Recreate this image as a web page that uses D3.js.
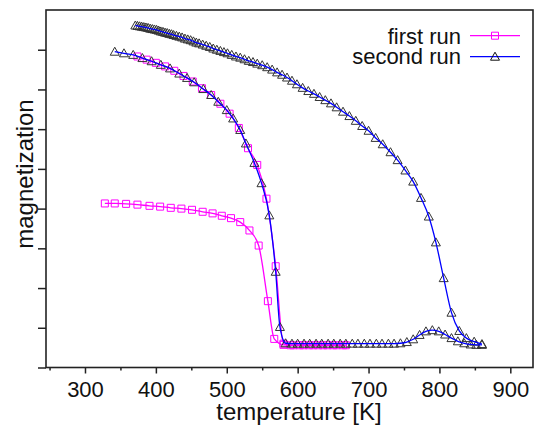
<!DOCTYPE html>
<html>
<head>
<meta charset="utf-8">
<script src="https://cdn.jsdelivr.net/npm/d3@7"></script>
<style>
  body { margin: 0; background: #fff; }
  svg { display: block; }
  text { font-family: "Liberation Sans", Arial, sans-serif; fill: #111; }
</style>
</head>
<body>
<svg id="chart" width="536" height="430"></svg>
<script>
// Legend entries
const seriesNames = ["first run", "second run"];

// Axis ticks (temperature in K; magnetization in arbitrary units, unlabelled)
const tempTicks = [300, 400, 500, 600, 700, 800, 900];
const tempMinorTicks = [250, 350, 450, 550, 650, 750, 850];
const magTicks = [0, 1, 2, 3, 4, 5, 6, 7, 8];

// First run: heating branch [T (K), magnetization]
const run1Heating = [
  [328, 4.13], [342, 4.13], [358, 4.12], [374, 4.10], [391, 4.07], [406, 4.05],
  [421, 4.02], [436, 4.00], [451, 3.97], [466, 3.92], [480, 3.88], [493, 3.82],
  [506, 3.76], [519, 3.66], [532, 3.45], [545, 3.07], [558, 1.67], [567, 0.72],
  [580, 0.57], [594, 0.56], [608, 0.56], [622, 0.56], [636, 0.56], [650, 0.56],
  [664, 0.56]
];

// First run: cooling branch
const run1Cooling = [
  [374, 7.83], [387, 7.75], [400, 7.67], [413, 7.58], [426, 7.47], [439, 7.34],
  [452, 7.20], [465, 7.03], [478, 6.86], [491, 6.64], [504, 6.39], [517, 6.03],
  [530, 5.52], [543, 5.10], [556, 4.25], [569, 2.55], [580, 0.60], [590, 0.56],
  [603, 0.56], [616, 0.56], [629, 0.56], [642, 0.56], [655, 0.56], [668, 0.56]
];

// Second run: heating branch
const run2Heating = [
  [342, 7.95], [355, 7.91], [368, 7.87], [381, 7.79], [394, 7.71], [407, 7.62],
  [420, 7.53], [433, 7.40], [444, 7.29], [454, 7.18], [467, 7.01], [478, 6.86],
  [488, 6.69], [500, 6.48], [509, 6.27], [519, 5.98], [527, 5.64], [539, 5.15],
  [549, 4.64], [560, 3.83], [569, 2.41], [575, 1.02], [583, 0.61], [592, 0.60],
  [600, 0.60], [609, 0.60], [617, 0.60], [626, 0.60], [634, 0.60], [643, 0.60],
  [651, 0.60], [660, 0.60], [668, 0.60], [677, 0.60], [685, 0.60], [694, 0.60],
  [702, 0.60], [711, 0.60], [719, 0.60], [728, 0.60], [736, 0.60], [745, 0.61],
  [754, 0.64], [763, 0.71], [772, 0.82], [781, 0.91], [790, 0.94], [799, 0.91],
  [808, 0.83], [817, 0.74], [826, 0.66], [835, 0.61], [844, 0.58], [852, 0.57],
  [860, 0.57]
];

// Second run: cooling branch
const run2Cooling = [
  [371, 8.61], [374, 8.60], [377, 8.59], [380, 8.58], [383, 8.57], [386, 8.56],
  [389, 8.55], [392, 8.53], [395, 8.52], [398, 8.51], [401, 8.50], [404, 8.48],
  [407, 8.46], [410, 8.45], [413, 8.43], [416, 8.42], [419, 8.40], [422, 8.39],
  [425, 8.37], [429, 8.35], [433, 8.33], [437, 8.31], [441, 8.28], [445, 8.26],
  [449, 8.24], [453, 8.21], [457, 8.18], [461, 8.16], [466, 8.13], [471, 8.10],
  [476, 8.07], [481, 8.03], [486, 8.00], [491, 7.97], [496, 7.94], [501, 7.91],
  [507, 7.87], [513, 7.83], [519, 7.80], [525, 7.76], [531, 7.72], [537, 7.69],
  [543, 7.65], [550, 7.61], [557, 7.56], [564, 7.50], [571, 7.43], [578, 7.37],
  [585, 7.30], [592, 7.22], [599, 7.13], [607, 7.04], [615, 6.96], [623, 6.89],
  [631, 6.81], [639, 6.73], [647, 6.65], [655, 6.55], [664, 6.44], [673, 6.33],
  [682, 6.21], [691, 6.08], [700, 5.96], [710, 5.78], [720, 5.62], [731, 5.42],
  [741, 5.22], [752, 4.96], [763, 4.68], [774, 4.27], [785, 3.80], [795, 3.15],
  [806, 2.25], [817, 1.38], [828, 0.92], [838, 0.74], [849, 0.65], [860, 0.59]
];

const colors = { first: "#ff00ff", second: "#0000ff", marker: "#333" };

const svg = d3.select("#chart");
const x = d3.scaleLinear().domain([245, 932]).range([46, 533]);
const y = d3.scaleLinear().domain([0, 9]).range([367.5, 10]);

const squarePath = "M-3.5,-3.5H3.5V3.5H-3.5Z";
const trianglePath = "M0,-4.5L4.5,3.5L-4.5,3.5Z";

// Bottom axis: major ticks with labels, minor ticks without
const xAxisG = svg.append("g").attr("transform", `translate(0,${y(0)})`);
xAxisG.call(d3.axisBottom(x).tickValues(tempTicks).tickSize(6).tickPadding(8));
const xMinorG = svg.append("g").attr("transform", `translate(0,${y(0)})`);
xMinorG.call(d3.axisBottom(x).tickValues(tempMinorTicks).tickSize(3).tickFormat(""));
[xAxisG, xMinorG].forEach(g => {
  g.select(".domain").remove();
  g.selectAll(".tick line").attr("stroke", "#222").attr("stroke-width", 1.5);
});
xAxisG.selectAll(".tick text")
  .attr("font-size", 22)
  .attr("font-family", '"Liberation Sans", Arial, sans-serif')
  .attr("fill", "#111");

// Left axis: unlabelled ticks
const yAxisG = svg.append("g").attr("transform", `translate(${x(245)},0)`);
yAxisG.call(d3.axisLeft(y).tickValues(magTicks).tickSize(8).tickFormat(""));
yAxisG.select(".domain").remove();
yAxisG.selectAll(".tick line").attr("stroke", "#222").attr("stroke-width", 1.5);

// Plot frame
svg.append("rect")
  .attr("x", x(245)).attr("y", y(9))
  .attr("width", x(932) - x(245)).attr("height", y(0) - y(9))
  .attr("fill", "none").attr("stroke", "#222").attr("stroke-width", 1.6);

const line = d3.line()
  .x(d => x(d[0]))
  .y(d => y(d[1]))
  .curve(d3.curveMonotoneX);

function drawMarkers(data, path, stroke) {
  svg.append("g").selectAll("path")
    .data(data)
    .join("path")
    .attr("d", path)
    .attr("transform", d => `translate(${x(d[0])},${y(d[1])})`)
    .attr("fill", "none")
    .attr("stroke", stroke)
    .attr("stroke-width", 1);
}

function drawLine(data, stroke) {
  svg.append("path")
    .datum(data)
    .attr("d", line)
    .attr("fill", "none")
    .attr("stroke", stroke)
    .attr("stroke-width", 1.3);
}

// First run (squares)
[run1Heating, run1Cooling].forEach(d => drawLine(d, colors.first));
[run1Heating, run1Cooling].forEach(d => drawMarkers(d, squarePath, colors.first));

// Second run (triangles)
[run2Heating, run2Cooling].forEach(d => drawMarkers(d, trianglePath, colors.marker));
[run2Heating, run2Cooling].forEach(d => drawLine(d, colors.second));

// Axis titles
svg.append("text")
  .attr("x", 299).attr("y", 420)
  .attr("text-anchor", "middle")
  .attr("font-size", 24)
  .text("temperature [K]");

svg.append("text")
  .attr("transform", "translate(33,174) rotate(-90)")
  .attr("text-anchor", "middle")
  .attr("font-size", 24)
  .text("magnetization");

// Legend
const legendItems = [
  { name: seriesNames[0], color: colors.first, marker: squarePath, markerColor: colors.first, cy: 35.7, ty: 43.5 },
  { name: seriesNames[1], color: colors.second, marker: trianglePath, markerColor: "#111", cy: 56.7, ty: 64 }
];
const legend = svg.append("g");
legendItems.forEach(item => {
  legend.append("text")
    .attr("x", 461).attr("y", item.ty)
    .attr("text-anchor", "end")
    .attr("font-size", 22)
    .text(item.name);
  legend.append("line")
    .attr("x1", 470).attr("x2", 520)
    .attr("y1", item.cy).attr("y2", item.cy)
    .attr("stroke", item.color).attr("stroke-width", 1.3);
  legend.append("path")
    .attr("d", item.marker)
    .attr("transform", `translate(495,${item.cy})`)
    .attr("fill", "none")
    .attr("stroke", item.markerColor)
    .attr("stroke-width", 1);
});
</script>
</body>
</html>
